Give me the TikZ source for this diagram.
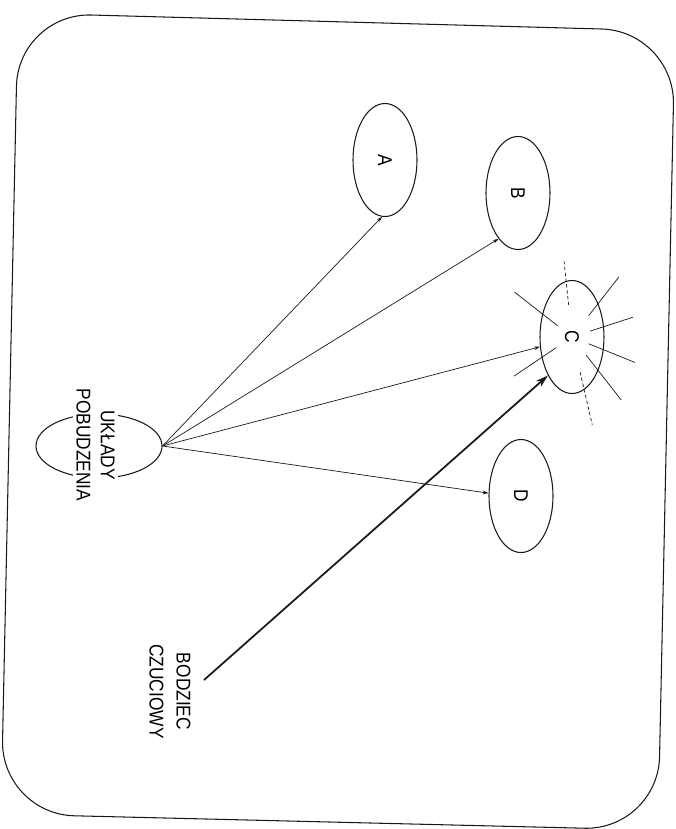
\documentclass[tikz,border=0pt]{standalone}
\usepackage{fontspec}
\setmainfont[FakeStretch=0.87]{Liberation Sans}
\usepackage{graphicx}
\usepackage{tikz}
\usetikzlibrary{shapes.geometric, arrows.meta, calc}
\definecolor{ink}{RGB}{25,25,25}
\tikzset{
  frame/.style={draw=ink, line width=0.9pt, rounded corners=2.2cm},
  region/.style={ellipse, draw=ink, line width=0.9pt,
    minimum width=1.92cm, minimum height=3.39cm, inner sep=0pt,
    font=\fontsize{17}{20}\selectfont},
  source/.style={ellipse, draw=ink, line width=0.9pt,
    minimum width=3.78cm, minimum height=1.92cm, inner sep=0pt},
  caption/.style={rotate=-90, align=center, fill=white, inner sep=3pt,
    font=\fontsize{17}{20.5}\selectfont},
  arrow/.style={-{Stealth[length=5pt, width=3.2pt]}, line width=0.6pt, color=ink},
  bigarrow/.style={-{Stealth[length=11pt, width=6.5pt]}, line width=1.5pt, color=ink},
  ray/.style={line width=0.6pt, color=ink},
  dashray/.style={line width=0.6pt, color=ink, dash pattern=on 3pt off 2pt}
}
\begin{document}
\begin{tikzpicture}[x=0.03cm, y=-0.03cm]
  \useasboundingbox (0,0) rectangle (676,829);
  \draw[frame] (18,13) -- (675,31) -- (658,830) -- (1,814) -- cycle;
  % target regions
  \node[region] (A) at (385,160) {\rotatebox{-90}{A}};
  \node[region] (B) at (518,193) {\rotatebox{-90}{B}};
  \node[region] (C) at (572,337) {\rotatebox{-90}{C}};
  \node[region] (D) at (521,496) {\rotatebox{-90}{D}};
  % arousal system and stimulus
  \node[source] (U) at (99,446) {};
  \node[caption] (ulabel) at (95.5,445) {UKŁADY\\POBUDZENIA};
  \node[caption, font=\fontsize{17}{23}\selectfont] (stim) at (170,691.5) {BODZIEC\\CZUCIOWY};
  \coordinate (stimtail) at (204,680);
  \draw[arrow] (U.east) -- (A.-93);
  \draw[arrow] (U.east) -- (B.-113);
  \draw[arrow] (U.east) -- (C.-163);
  \draw[arrow] (U.east) -- (D.175);
  \draw[bigarrow] (stimtail) -- (C.-122);
  % rays round C
  \foreach \a/\ri/\ro in {-142/18/73, -52/27/76, -18/19/64, 22/18/68, 52/23/80, 146/19/70}
    \draw[ray] ($(C.center)+(\a:\ri)$) -- ($(C.center)+(\a:\ro)$);
  \foreach \a/\ri/\ro in {-96/32/76, 77/36/90}
    \draw[dashray] ($(C.center)+(\a:\ri)$) -- ($(C.center)+(\a:\ro)$);
\end{tikzpicture}
\end{document}
